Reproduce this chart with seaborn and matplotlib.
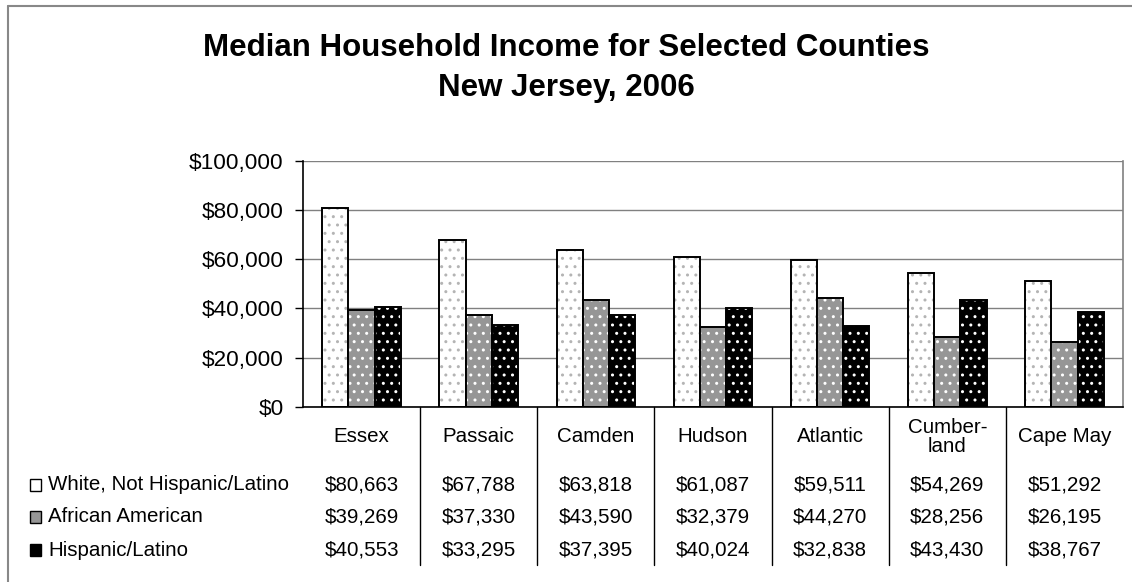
import matplotlib
matplotlib.use("Agg")
import matplotlib.pyplot as plt
import matplotlib.transforms as mtransforms
from matplotlib.patches import Rectangle
from matplotlib.lines import Line2D
from matplotlib.ticker import FuncFormatter
import seaborn as sns
import pandas as pd

# Median household income by county and group
counties = ["Essex", "Passaic", "Camden", "Hudson", "Atlantic", "Cumberland", "Cape May"]
county_labels = ["Essex", "Passaic", "Camden", "Hudson", "Atlantic", "Cumber-\nland", "Cape May"]
groups = ["White, Not Hispanic/Latino", "African American", "Hispanic/Latino"]
white = [80663, 67788, 63818, 61087, 59511, 54269, 51292]
african_american = [39269, 37330, 43590, 32379, 44270, 28256, 26195]
hispanic = [40553, 33295, 37395, 40024, 32838, 43430, 38767]
y_ticks = [0, 20000, 40000, 60000, 80000, 100000]

series = [white, african_american, hispanic]
df = pd.DataFrame({
    "county": [c for _ in groups for c in counties],
    "group": [g for g in groups for _ in counties],
    "income": [v for s in series for v in s],
})

fills = ["#ffffff", "#969696", "#000000"]
dot_colors = ["#b4b4b4", "#ffffff", "#ffffff"]

sns.set_theme(style="white")
plt.rcParams["font.family"] = ["Liberation Sans", "DejaVu Sans"]
plt.rcParams["hatch.linewidth"] = 1.0

W, H = 1132, 582
fig = plt.figure(figsize=(W / 100, H / 100), dpi=100)
fig.patch.set_facecolor("white")


def fy(py):
    return 1 - py / H


ax = fig.add_axes([303 / W, fy(407), 820 / W, (407 - 160.7) / H])

sns.barplot(data=df, x="county", y="income", hue="group", order=counties,
            hue_order=groups, palette=fills, width=0.67, edgecolor="black",
            linewidth=1.4, legend=False, ax=ax, saturation=1, errorbar=None)

n = len(counties)
for i, patch in enumerate(ax.patches[: n * len(groups)]):
    gi = i // n
    patch.set_hatch("..")
    if hasattr(patch, "set_hatchcolor"):
        patch.set_hatchcolor(dot_colors[gi])
    else:
        patch._hatch_color = matplotlib.colors.to_rgba(dot_colors[gi])

ax.set_xlim(-0.5, n - 0.5)
ax.set_ylim(0, 100000)
ax.set_yticks(y_ticks)
ax.yaxis.set_major_formatter(FuncFormatter(lambda v, p: f"${v:,.0f}"))
ax.grid(axis="y", color="#808080", linewidth=1.0)
ax.set_axisbelow(True)
ax.set_xlabel("")
ax.set_ylabel("")
ax.set_xticks([])
ax.tick_params(axis="y", which="both", left=True, length=6, width=1.0,
               color="black", pad=8, labelsize=16.2, labelcolor="black")
for side in ["left", "bottom"]:
    ax.spines[side].set_color("black")
    ax.spines[side].set_linewidth(1.2)
ax.spines["top"].set_visible(False)
ax.spines["right"].set_color("#808080")
ax.spines["right"].set_linewidth(1.2)

# Data table beneath the plot
blend = mtransforms.blended_transform_factory(ax.transData, fig.transFigure)
for i, lab in enumerate(county_labels):
    ax.text(i, fy(437), lab, transform=blend, ha="center", va="center",
            fontsize=14.8, color="black", linespacing=1.0, clip_on=False)

row_y = [485, 517, 550]
for s, ry in zip(series, row_y):
    for i, v in enumerate(s):
        ax.text(i, fy(ry), f"${v:,}", transform=blend, ha="center",
                va="center", fontsize=14.8, color="black", clip_on=False)

for i in range(n - 1):
    fig.add_artist(Line2D([i + 0.5, i + 0.5], [fy(407), fy(565)],
                          transform=blend, color="black", linewidth=1.0))

# Legend keys at the row headers
for gi, (g, ry) in enumerate(zip(groups, row_y)):
    fig.add_artist(Rectangle((30 / W, fy(ry + 6)), 11 / W, 12 / H,
                             transform=fig.transFigure, facecolor=fills[gi],
                             edgecolor="black", linewidth=1.0))
    fig.text(48 / W, fy(ry), g, ha="left", va="center", fontsize=14.8,
             color="black")

# Title
fig.text(0.5, fy(56), "Median Household Income for Selected Counties",
         ha="center", va="baseline", fontsize=22.5, fontweight="bold",
         color="black")
fig.text(0.5, fy(96), "New Jersey, 2006", ha="center", va="baseline",
         fontsize=22.5, fontweight="bold", color="black")

# Chart frame
fig.add_artist(Line2D([8 / W, 8 / W], [0, fy(6)], transform=fig.transFigure,
                      color="#888888", linewidth=1.5))
fig.add_artist(Line2D([8 / W, 1], [fy(6), fy(6)], transform=fig.transFigure,
                      color="#888888", linewidth=1.5))

fig.savefig("out.png", dpi=100, facecolor="white")
